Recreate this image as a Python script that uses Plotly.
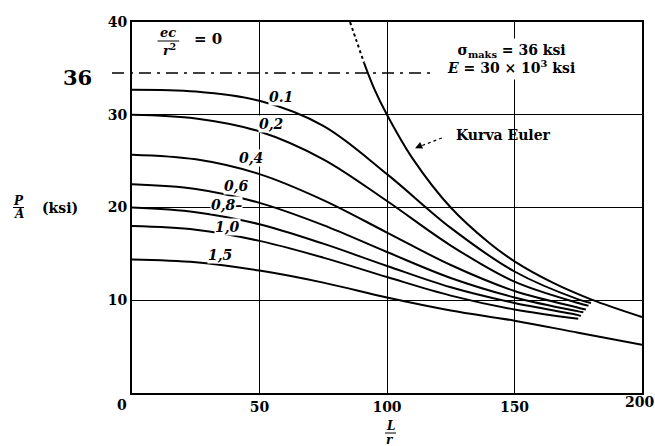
import plotly.graph_objects as go

# ---------------- data ----------------
curve_labels = ["0.1", "0,2", "0,4", "0,6", "0,8", "1,0", "1,5"]

c01_x = [0, 25, 50, 75, 100, 125, 150, 175, 180]
c01_y = [32.7, 32.5, 31.5, 28.8, 23.6, 17.8, 13.1, 10.1, 9.7]
c02_x = [0, 25, 50, 75, 100, 125, 150, 175, 179]
c02_y = [30.0, 29.6, 28.2, 25.2, 20.7, 15.9, 12.0, 9.7, 9.4]
c04_x = [0, 25, 50, 75, 100, 125, 150, 175, 178]
c04_y = [25.7, 25.2, 23.6, 20.8, 17.3, 13.8, 11.0, 9.2, 9.0]
c06_x = [0, 25, 50, 75, 100, 125, 150, 175, 177]
c06_y = [22.5, 22.0, 20.5, 18.1, 15.2, 12.4, 10.3, 8.8, 8.7]
c08_x = [0, 25, 50, 75, 100, 125, 150, 175, 176]
c08_y = [20.0, 19.5, 18.2, 16.1, 13.7, 11.4, 9.7, 8.4, 8.3]
c10_x = [0, 25, 50, 75, 100, 125, 150, 175]
c10_y = [18.0, 17.6, 16.4, 14.6, 12.5, 10.5, 9.0, 8.0]
c15_x = [0, 25, 50, 75, 100, 125, 150, 175, 200]
c15_y = [14.4, 14.1, 13.2, 11.9, 10.3, 8.9, 7.8, 6.5, 5.2]

euler_dot_x = [85.5, 88, 91]
euler_dot_y = [40.0, 38.0, 35.6]
euler_x = [91, 95, 100, 110, 125, 140, 150, 165, 180, 200]
euler_y = [35.6, 32.8, 30.0, 25.3, 20.0, 16.2, 14.2, 11.9, 10.1, 8.2]

sigma_max = 36
x_ticks = [50, 100, 150]
x_tick_edge = 200
y_ticks = [10, 20, 30, 40]

curves = [(c01_x, c01_y), (c02_x, c02_y), (c04_x, c04_y), (c06_x, c06_y),
          (c08_x, c08_y), (c10_x, c10_y), (c15_x, c15_y)]

# ---------------- figure ----------------
W, H = 655, 446
ML, MR, MT, MB = 132, 13, 22, 53
PW, PH = W - ML - MR, H - MT - MB

def px(xp):   # pixel -> paper x
    return (xp - ML) / PW

def py(yp):   # pixel -> paper y
    return (H - MB - yp) / PH

SERIF = "DejaVu Serif"
fig = go.Figure()

for (xs, ys) in curves:
    fig.add_trace(go.Scatter(x=xs, y=ys, mode="lines",
                             line=dict(color="black", width=2, shape="spline", smoothing=1.0),
                             hoverinfo="skip", showlegend=False))

fig.add_trace(go.Scatter(x=euler_dot_x, y=euler_dot_y, mode="lines",
                         line=dict(color="black", width=2, dash="dot", shape="spline"),
                         hoverinfo="skip", showlegend=False))
fig.add_trace(go.Scatter(x=euler_x, y=euler_y, mode="lines",
                         line=dict(color="black", width=2, shape="spline", smoothing=1.0),
                         hoverinfo="skip", showlegend=False))

shapes = []
# sigma max dash-dot line (extends left of the axis)
shapes.append(dict(type="line", xref="paper", yref="y", x0=px(112), x1=px(432),
                   y0=34.5, y1=34.5, line=dict(color="black", width=1.6, dash="12px,6px,3px,6px")))
# fraction bars
shapes.append(dict(type="line", xref="x", yref="y", x0=10.0, x1=18.5, y0=37.95, y1=37.95,
                   line=dict(color="black", width=1)))
shapes.append(dict(type="line", xref="paper", yref="paper", x0=px(13), x1=px(24), y0=py(207.5), y1=py(207.5),
                   line=dict(color="black", width=1)))
shapes.append(dict(type="line", xref="paper", yref="paper", x0=px(385), x1=px(396), y0=py(433), y1=py(433),
                   line=dict(color="black", width=1)))
# dotted leader of "Kurva Euler"
shapes.append(dict(type="line", xref="x", yref="y", x0=121.5, y0=27.5, x1=113.0, y1=26.6,
                   line=dict(color="black", width=1.2, dash="dot")))

ann = []
label_pos = [(58.4, 31.9), (54.9, 29.0), (46.7, 25.3), (40.8, 22.3), (36.9, 20.3), (37.3, 17.9), (34.5, 14.9)]
for lab, (lx, ly) in zip(curve_labels, label_pos):
    txt = lab + "–" if lab == "0,8" else lab
    ann.append(dict(x=lx, y=ly, xref="x", yref="y", text="<b><i>%s</i></b>" % txt, showarrow=False,
                    font=dict(family=SERIF, size=14, color="black"), bgcolor="white", borderpad=0))

# arrowhead of the Euler leader
ann.append(dict(x=111.0, y=26.4, ax=113.5, ay=26.7, xref="x", yref="y", axref="x", ayref="y",
                text="", showarrow=True, arrowhead=2, arrowsize=1.2, arrowwidth=1.2, arrowcolor="black",
                standoff=0, startstandoff=0))

def txt_ann(x, y, text, size, xref="x", yref="y", **kw):
    d = dict(x=x, y=y, xref=xref, yref=yref, text=text, showarrow=False,
             xanchor="center", yanchor="middle",
             font=dict(family=SERIF, size=size, color="black"))
    d.update(kw)
    return d

ann.append(txt_ann(145.5, 27.8, "<b>Kurva Euler</b>", 14))
ann.append(txt_ann(148.6, 36.0,
                   "<b>σ<sub>maks</sub> = %d ksi<br><i>E</i> = 30 × 10<sup>3</sup> ksi</b>" % sigma_max,
                   14, align="center", bgcolor="white", borderpad=3))
ann.append(txt_ann(14.2, 38.85, "<b><i>ec</i></b>", 13))
ann.append(txt_ann(14.6, 37.0, "<b><i>r</i><sup>2</sup></b>", 13))
ann.append(txt_ann(29.8, 38.2, "<b>= 0</b>", 15))
ann.append(txt_ann(px(77), py(77), "<b>%d</b>" % sigma_max, 21, xref="paper", yref="paper"))
ann.append(txt_ann(px(18.5), py(201), "<b><i>P</i></b>", 12, xref="paper", yref="paper"))
ann.append(txt_ann(px(18.5), py(213.5), "<b><i>A</i></b>", 12, xref="paper", yref="paper"))
ann.append(txt_ann(px(60), py(208), "<b>(ksi)</b>", 14, xref="paper", yref="paper"))
ann.append(txt_ann(px(390.5), py(426), "<b><i>L</i></b>", 12, xref="paper", yref="paper"))
ann.append(txt_ann(px(390), py(440), "<b><i>r</i></b>", 12, xref="paper", yref="paper"))
ann.append(txt_ann(px(122), py(405), "<b>0</b>", 14, xref="paper", yref="paper"))
ann.append(txt_ann(x_tick_edge, py(402), "<b>%d</b>" % x_tick_edge, 14, xref="x", yref="paper",
                   xanchor="right", xshift=14))

axis_common = dict(showgrid=True, gridcolor="black", gridwidth=1.4, showline=True, linecolor="black",
                   linewidth=2, mirror=True, ticks="", zeroline=False,
                   tickfont=dict(family=SERIF, size=14, color="black", weight="bold"))

fig.update_layout(
    width=W, height=H,
    margin=dict(l=ML, r=MR, t=MT, b=MB),
    paper_bgcolor="white", plot_bgcolor="white",
    xaxis=dict(range=[0, 200], tickvals=x_ticks, **axis_common),
    yaxis=dict(range=[0, 40], tickvals=y_ticks, **axis_common),
    shapes=shapes, annotations=ann,
)

fig.write_html("out.html", config={"displayModeBar": False},
               post_script="document.body.style.margin='0px';document.body.style.overflow='hidden';")
